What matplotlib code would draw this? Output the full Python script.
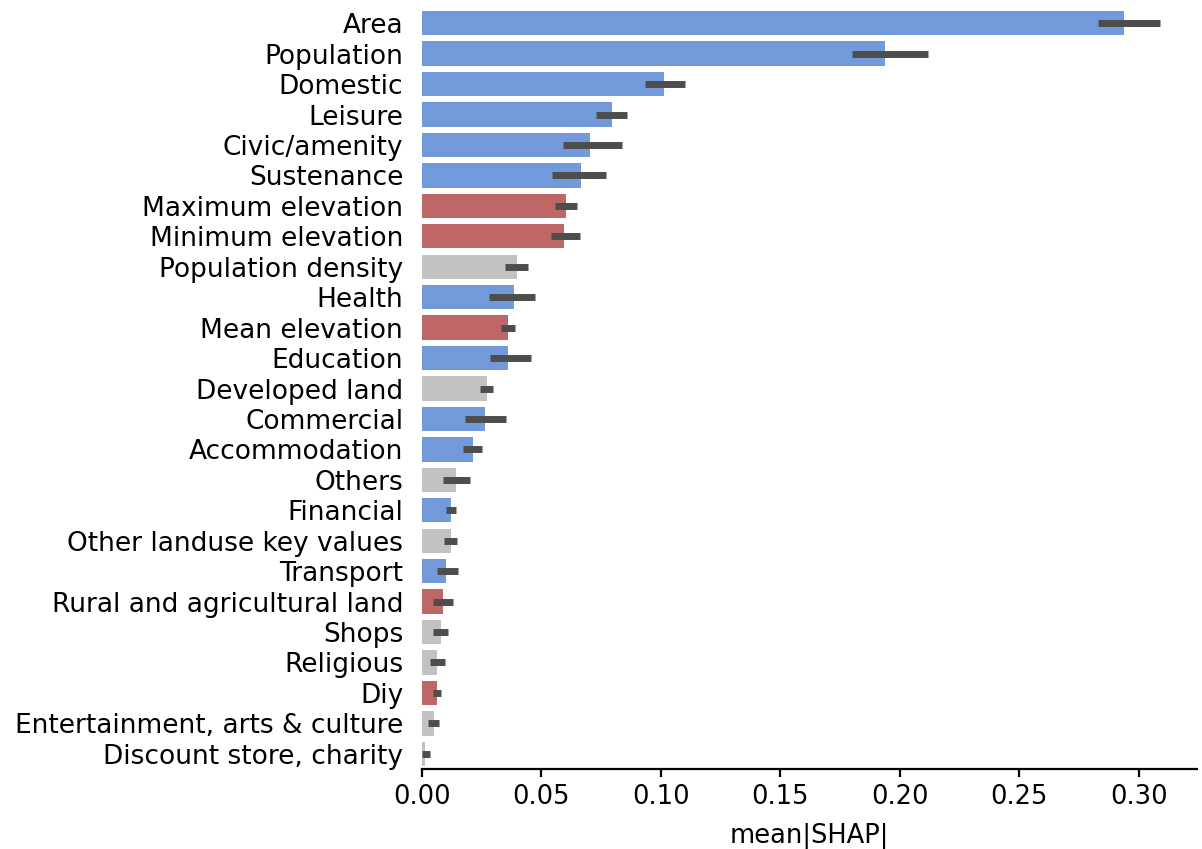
import matplotlib
matplotlib.use("Agg")
import matplotlib.pyplot as plt
import numpy as np

features = [
    "Area", "Population", "Domestic", "Leisure", "Civic/amenity", "Sustenance",
    "Maximum elevation", "Minimum elevation", "Population density", "Health",
    "Mean elevation", "Education", "Developed land", "Commercial",
    "Accommodation", "Others", "Financial", "Other landuse key values",
    "Transport", "Rural and agricultural land", "Shops", "Religious", "Diy",
    "Entertainment, arts & culture", "Discount store, charity",
]
mean_shap = [
    0.294, 0.194, 0.1015, 0.0797, 0.0704, 0.0667, 0.0604, 0.0593, 0.0397,
    0.0387, 0.0360, 0.0360, 0.0272, 0.0265, 0.0214, 0.0142, 0.0122, 0.0120,
    0.0100, 0.0089, 0.0080, 0.0064, 0.0064, 0.0050, 0.0011,
]
ci_low = [
    0.283, 0.180, 0.0933, 0.0730, 0.0589, 0.0544, 0.0558, 0.0540, 0.0349,
    0.0279, 0.0332, 0.0285, 0.0245, 0.0179, 0.0171, 0.0089, 0.0099, 0.0094,
    0.0064, 0.0047, 0.0047, 0.0033, 0.0045, 0.0025, 0.0001,
]
ci_high = [
    0.309, 0.212, 0.1100, 0.0857, 0.0839, 0.0770, 0.0651, 0.0660, 0.0444,
    0.0475, 0.0389, 0.0455, 0.0296, 0.0353, 0.0251, 0.0201, 0.0144, 0.0147,
    0.0151, 0.0130, 0.0108, 0.0097, 0.0082, 0.0072, 0.0035,
]
groups = [
    "poi", "poi", "poi", "poi", "poi", "poi", "terrain", "terrain", "other",
    "poi", "terrain", "poi", "other", "poi", "poi", "other", "poi", "other",
    "poi", "terrain", "other", "other", "terrain", "other", "other",
]
palette = {"poi": "#729ADB", "terrain": "#BF6767", "other": "#C2C2C2"}
xticks = [0.00, 0.05, 0.10, 0.15, 0.20, 0.25, 0.30]

mean_arr = np.array(mean_shap)
err = np.vstack([mean_arr - np.array(ci_low), np.array(ci_high) - mean_arr])
y = np.arange(len(features))
colors = [palette[g] for g in groups]

fig = plt.figure(figsize=(12.02, 8.49), dpi=100)
ax = fig.add_axes([0.351, 0.0942, 0.645, 0.8964])
ax.barh(y, mean_arr, height=0.8, color=colors, edgecolor="none")
ax.errorbar(mean_arr, y, xerr=err, fmt="none", ecolor="#4d4d4d",
            elinewidth=5, capsize=0)

ax.set_ylim(len(features) - 0.5, -0.5)
ax.set_xlim(0, max(ci_high) * 1.05)
ax.set_yticks(y)
ax.set_yticklabels(features, fontsize=19)
ax.set_xticks(xticks)
ax.set_xticklabels([f"{v:.2f}" for v in xticks], fontsize=18.5)
ax.set_xlabel("mean|SHAP|", fontsize=18.5, labelpad=9)
ax.tick_params(axis="y", length=0, pad=13.5)
ax.tick_params(axis="x", length=6, width=1.6, pad=5)
for side in ("top", "right", "left"):
    ax.spines[side].set_visible(False)
ax.spines["bottom"].set_linewidth(1.6)

fig.savefig("out.png", dpi=100)
